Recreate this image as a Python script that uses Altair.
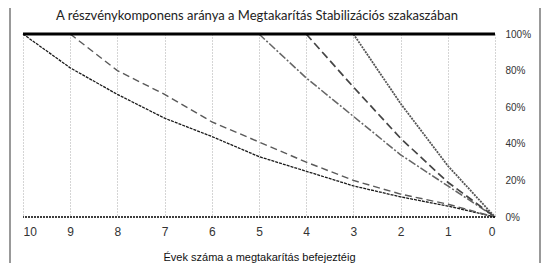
import altair as alt
import pandas as pd

chart_title = "A részvénykomponens aránya a Megtakarítás Stabilizációs szakaszában"
x_title = "Évek száma a megtakarítás befejeztéig"

years = [10, 9, 8, 7, 6, 5, 4, 3, 2, 1, 0]
y_ticks = [0, 20, 40, 60, 80, 100]

series_names = ["10 év", "9 év", "5 év", "4 év", "3 év"]
series_years = [
    [10, 9, 8, 7, 6, 5, 4, 3, 2, 1, 0],
    [9, 8, 7, 6, 5, 4, 3, 2, 1, 0],
    [5, 4, 3, 2, 1, 0],
    [4, 3, 2, 1, 0],
    [3, 2, 1, 0],
]
s10 = [100, 81.5, 67, 54, 44, 33, 25, 17, 11, 6, 0]
s9 = [100, 80, 67, 52, 41, 30, 20, 12.5, 7, 0]
s5 = [100, 76, 55, 34, 17, 0]
s4 = [100, 71, 43, 19, 0]
s3 = [100, 62, 28, 0]
series_values = [s10, s9, s5, s4, s3]

rows = []
for name, yrs, vals in zip(series_names, series_years, series_values):
    for yv, v in zip(yrs, vals):
        rows.append({"sor": name, "ev": yv, "arany": v})
df = pd.DataFrame(rows)

line_colors = ["#1a1a1a", "#5a5a5a", "#666666", "#444444", "#555555"]
line_dashes = [[3, 1], [7, 4], [8, 2, 2, 2], [8, 4], [2, 1]]
line_widths = [1.3, 1.8, 1.0, 1.5, 1.0]

xscale = alt.Scale(domain=[0, 10], reverse=True, nice=False)
yscale = alt.Scale(domain=[0, 100], nice=False)

y_axis = alt.Axis(orient="right", values=y_ticks, labelExpr="datum.value + '%'",
                  grid=False, ticks=False, domain=False, labelPadding=10,
                  labelFontSize=10, labelColor="#333333", labelOverlap=False,
                  labelFlush=False, labelFont="Liberation Sans", title=None)

lines = alt.Chart(df).mark_line().encode(
    x=alt.X("ev:Q", scale=xscale,
            axis=alt.Axis(values=years, format="d", grid=True, gridDash=[1, 2],
                          gridColor="#aaaaaa", ticks=False, domain=False,
                          labelPadding=9, labelFontSize=12, labelColor="#333333",
                          labelFont="Liberation Sans", labelOverlap=False,
                          title=x_title, titleFontSize=11, titleFontWeight="normal",
                          titleFont="Liberation Sans", titleColor="#111111",
                          titlePadding=14)),
    y=alt.Y("arany:Q", scale=yscale, axis=y_axis),
    color=alt.Color("sor:N", scale=alt.Scale(domain=series_names, range=line_colors), legend=None),
    strokeDash=alt.StrokeDash("sor:N", scale=alt.Scale(domain=series_names, range=line_dashes), legend=None),
    strokeWidth=alt.StrokeWidth("sor:N", scale=alt.Scale(domain=series_names, range=line_widths), legend=None),
)

top_rule = alt.Chart(pd.DataFrame({"arany": [100]})).mark_rule(color="black", strokeWidth=3).encode(
    y=alt.Y("arany:Q", scale=yscale, axis=y_axis))
zero_rule = alt.Chart(pd.DataFrame({"arany": [0]})).mark_rule(color="black", strokeWidth=1.5, strokeDash=[2, 1]).encode(
    y=alt.Y("arany:Q", scale=yscale, axis=y_axis))

frame_left = alt.Chart(pd.DataFrame({"a": [0]})).mark_rule(color="#999999", strokeWidth=2).encode(
    x=alt.value(-13), y=alt.value(-40), y2=alt.value(240))
frame_right = alt.Chart(pd.DataFrame({"a": [0]})).mark_rule(color="#999999", strokeWidth=2).encode(
    x=alt.value(517), y=alt.value(-40), y2=alt.value(240))

title_text = alt.Chart(pd.DataFrame({"t": [chart_title]})).mark_text(
    font="Lato", fontSize=13, color="#222222", align="center", baseline="middle"
).encode(text="t:N", x=alt.value(234), y=alt.value(-18))

chart = alt.layer(lines, zero_rule, top_rule, frame_left, frame_right, title_text).properties(
    width=472, height=183,
    autosize=alt.AutoSizeParams(type="none"),
    padding={"left": 15, "top": 26, "right": 49, "bottom": 46},
).configure_view(stroke=None)

chart.save("out.html", embed_options={"renderer": "svg", "actions": False})
